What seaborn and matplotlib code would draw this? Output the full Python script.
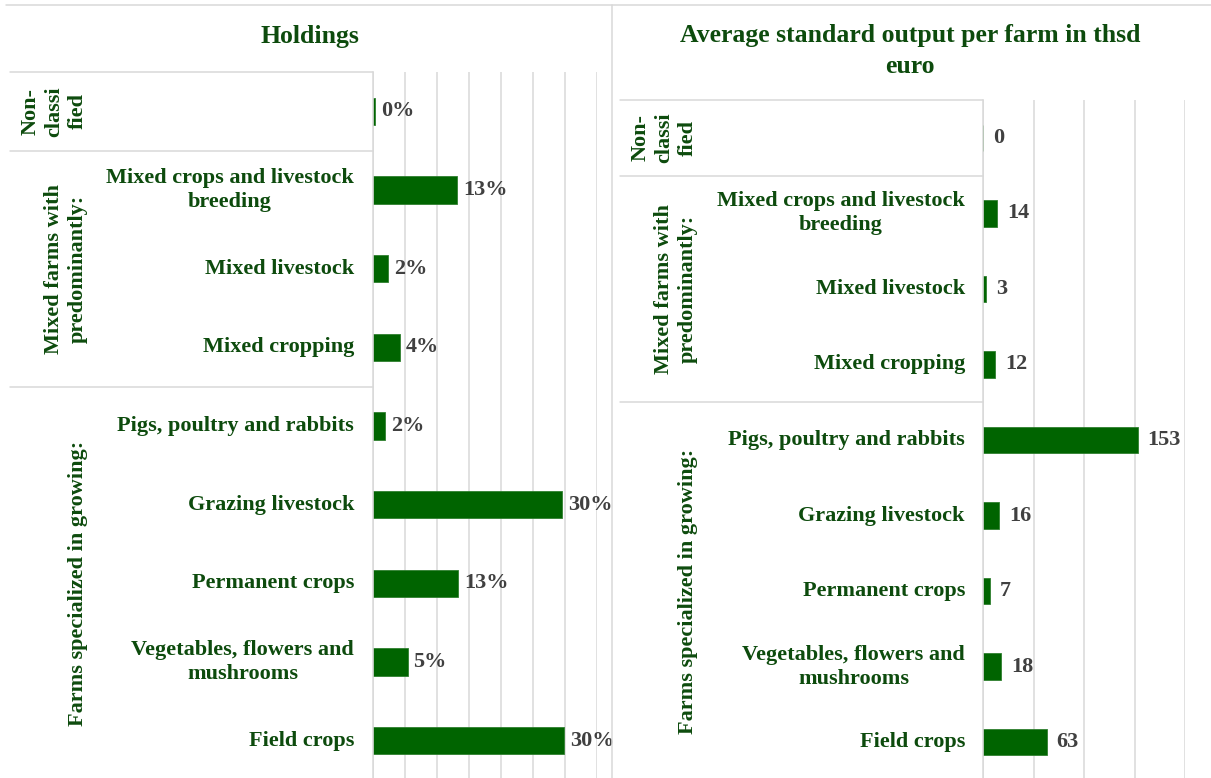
import numpy as np
import pandas as pd
import matplotlib
matplotlib.use("Agg")
import matplotlib.pyplot as plt
import matplotlib.transforms as mtransforms
from matplotlib.lines import Line2D
import seaborn as sns

# ---------------- data ----------------
categories = [
    "Non-classified",
    "Mixed crops and livestock\nbreeding",
    "Mixed livestock",
    "Mixed cropping",
    "Pigs, poultry and rabbits",
    "Grazing livestock",
    "Permanent crops",
    "Vegetables, flowers and\nmushrooms",
    "Field crops",
]
category_labels = ["", "Mixed crops and livestock\nbreeding", "Mixed livestock",
                   "Mixed cropping", "Pigs, poultry and rabbits", "Grazing livestock",
                   "Permanent crops", "Vegetables, flowers and\nmushrooms", "Field crops"]
holdings_pct = [0.3, 13.1, 2.4, 4.2, 1.9, 29.5, 13.3, 5.4, 29.9]
output_thsd = [0, 14, 3, 12, 153, 16, 7, 18, 63]

group_names = ["Non-\nclassi\nfied", "Mixed farms with\npredominantly:",
               "Farms specialized in growing:"]
group_first_row = [0, 1, 4]
group_last_row = [0, 3, 8]

title_left = "Holdings"
title_right = "Average standard output per farm in thsd\neuro"

# ---------------- style ----------------
W, H = 1211, 778
BAR = "#006400"
TXT = "#0d4b0d"
VAL = "#404040"
GRID = "#d9d9d9"
FONT = "Liberation Serif"
FS = 16

sns.set_theme(style="white")
plt.rcParams["font.family"] = [FONT, "DejaVu Serif"]
plt.rcParams["font.weight"] = "bold"

fig = plt.figure(figsize=(W / 100, H / 100), dpi=100)


def fx(px):
    return px / W


def fy(py):
    return 1 - py / H


def make_panel(values, ax_px, xlim, xstep, fmt, label_pad_px, val_pad_px,
               group_x_px, line_x0_px):
    x0, y0, x1, y1 = ax_px
    ax = fig.add_axes([fx(x0), fy(y1), fx(x1 - x0), (y1 - y0) / H])
    df = pd.DataFrame({"cat": categories, "val": values})
    sns.barplot(data=df, x="val", y="cat", orient="h", color=BAR,
                width=0.35, saturation=1, ax=ax, edgecolor="#2f7f2f", linewidth=0.6)
    ax.set_xlim(*xlim)
    ax.set_ylim(len(categories) - 0.5, -0.5)
    ax.set_xticks(np.arange(xlim[0], xlim[1] + 0.001, xstep))
    ax.xaxis.grid(True, color=GRID, linewidth=1.1)
    ax.set_axisbelow(True)
    ax.tick_params(left=False, bottom=False, labelbottom=False, labelleft=False)
    ax.set_xlabel("")
    ax.set_ylabel("")
    for s in ["top", "right", "bottom"]:
        ax.spines[s].set_visible(False)
    ax.spines["left"].set_color(GRID)
    ax.spines["left"].set_linewidth(1.1)

    axw = x1 - x0
    tr_lab = mtransforms.blended_transform_factory(ax.transAxes, ax.transData)
    for i, lab in enumerate(category_labels):
        ax.text(-label_pad_px / axw, i, lab, transform=tr_lab, ha="right",
                va="center", multialignment="center", fontsize=FS,
                color=TXT, fontweight="bold", linespacing=1.25)
    off = mtransforms.ScaledTranslation(val_pad_px / 100, 0, fig.dpi_scale_trans)
    for i, v in enumerate(values):
        ax.text(v, i, fmt(v), transform=ax.transData + off, ha="left",
                va="center", fontsize=FS, color=VAL, fontweight="bold",
                clip_on=False)

    tr_fig = mtransforms.blended_transform_factory(fig.transFigure, ax.transData)
    for name, a, b in zip(group_names, group_first_row, group_last_row):
        ax.text(fx(group_x_px), (a + b) / 2, name, transform=tr_fig,
                rotation=90, ha="right", va="center", multialignment="center",
                fontsize=FS, color=TXT, fontweight="bold", linespacing=1.25)
    for yb in [-0.5, 0.5, 3.5]:
        ax.add_line(Line2D([fx(line_x0_px), fx(x0)], [yb, yb], transform=tr_fig,
                           color=GRID, linewidth=1.1, clip_on=False))
    return ax


make_panel(holdings_pct, (373, 72, 597, 780), (0, 35), 5,
           lambda v: f"{v:.0f}%", 19, 6, 88, 10)
make_panel(output_thsd, (983, 100, 1185, 780), (0, 200), 50,
           lambda v: f"{v:.0f}", 18, 10, 698, 620)

# titles
fig.text(fx(310), fy(36), title_left, ha="center", va="center",
         fontsize=18.5, color=TXT, fontweight="bold")
fig.text(fx(910), fy(51), title_right, ha="center", va="center",
         fontsize=18.5, color=TXT, fontweight="bold", linespacing=1.4)

# frame lines
fig.add_artist(Line2D([fx(6), fx(1211)], [fy(5), fy(5)], color=GRID, linewidth=1.1))
fig.add_artist(Line2D([fx(612), fx(612)], [fy(5), fy(778)], color=GRID, linewidth=1.1))

fig.savefig("out.png", dpi=100, facecolor="white")
